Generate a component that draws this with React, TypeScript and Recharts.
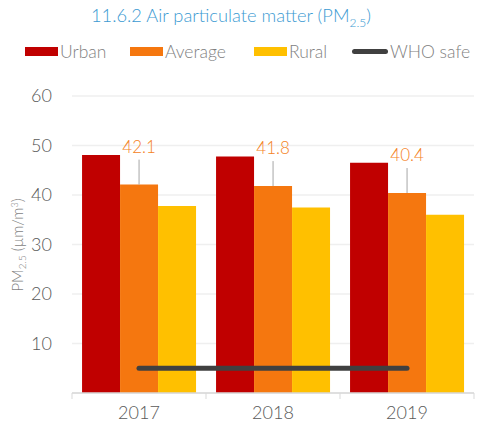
import { Bar, CartesianGrid, ComposedChart, LabelList, Line, XAxis, YAxis } from "recharts";

const years = ["2017", "2018", "2019"];
const urban = [48.1, 47.8, 46.5];
const average = [42.1, 41.8, 40.4];
const rural = [37.8, 37.5, 36.0];
const whoSafe = [5, 5, 5];
const yTicks = [10, 20, 30, 40, 50, 60];

const data = years.map((year, i) => ({
  year,
  urban: urban[i],
  average: average[i],
  rural: rural[i],
  who: whoSafe[i],
}));

const FONT = "Lato, 'Open Sans', sans-serif";
const CHART_W = 482;
const CHART_H = 434;
const MARGIN = { top: 96, right: 8, bottom: 11, left: 0 };
const Y_W = 72;
const HALF_BAND = (CHART_W - MARGIN.right - Y_W) / years.length / 2;

const XTick = (props: any) => {
  const { x, y, payload, index } = props;
  return (
    <g>
      <line x1={x - HALF_BAND} x2={x - HALF_BAND} y1={y - 8} y2={y - 2} stroke="#d9d9d9" />
      {index === years.length - 1 && (
        <line x1={x + HALF_BAND} x2={x + HALF_BAND} y1={y - 8} y2={y - 2} stroke="#d9d9d9" />
      )}
      <text x={x} y={y + 18} textAnchor="middle" fill="#595959" fontSize={18} fontFamily={FONT} fontWeight={300}>
        {payload.value}
      </text>
    </g>
  );
};

const AvgLabel = (props: any) => {
  const { x, y, width, value } = props;
  const cx = x + width / 2;
  return (
    <g>
      <line x1={cx} x2={cx} y1={y - 25} y2={y} stroke="#a6a6a6" strokeWidth={1} />
      <text x={cx} y={y - 32} textAnchor="middle" fill="#f48224" fontSize={17} fontFamily={FONT} fontWeight={300}>
        {value}
      </text>
    </g>
  );
};

const YLabel = () => (
  <text
    transform="translate(23,245) rotate(-90)"
    textAnchor="middle"
    fill="#7f7f7f"
    fontSize={15}
    fontFamily={FONT}
    fontWeight={300}
  >
    PM<tspan fontSize={10} dy={3}>2.5</tspan>
    <tspan dy={-3}> (µm/m</tspan>
    <tspan fontSize={9} dy={-5}>3</tspan>
    <tspan dy={5}>)</tspan>
  </text>
);

const legendItems = [
  { label: "Urban", color: "#c00000", left: 25 },
  { label: "Average", color: "#f5770f", left: 130 },
  { label: "Rural", color: "#ffc000", left: 254 },
  { label: "WHO safe", color: "#404040", left: 352, line: true },
];

export default function App() {
  return (
    <div style={{ position: "absolute", left: 0, top: 0, width: CHART_W, height: CHART_H, fontFamily: FONT, fontWeight: 300 }}>
      <div style={{ position: "absolute", left: 91, top: 4, fontSize: 18.3, color: "#3b9ad2", whiteSpace: "nowrap" }}>
        11.6.2 Air particulate matter (PM<sub style={{ fontSize: 12 }}>2.5</sub>)
      </div>
      {legendItems.map((item) => (
        <div key={item.label} style={{ position: "absolute", left: item.left, top: 41, display: "flex", alignItems: "center" }}>
          <div
            style={{
              width: item.line ? 36 : 33,
              height: item.line ? 5 : 9,
              borderRadius: item.line ? 3 : 0,
              background: item.color,
              marginRight: 2,
            }}
          />
          <span style={{ color: "#7f7f7f", fontSize: 17.5 }}>{item.label}</span>
        </div>
      ))}
      <ComposedChart width={CHART_W} height={CHART_H} data={data} margin={MARGIN} barCategoryGap="7.5%" barGap={0}>
        <CartesianGrid vertical={false} stroke="#efefef" strokeWidth={1.5} />
        <XAxis
          dataKey="year"
          height={30}
          axisLine={{ stroke: "#d9d9d9", strokeWidth: 1.5 }}
          tickLine={false}
          tick={<XTick />}
          interval={0}
        />
        <YAxis
          width={Y_W}
          domain={[0, 60]}
          ticks={yTicks}
          axisLine={false}
          tickLine={false}
          tickMargin={14}
          tick={{ fill: "#595959", fontSize: 18, fontFamily: FONT, fontWeight: 300 }}
          label={<YLabel />}
        />
        <Bar dataKey="urban" fill="#c00000" isAnimationActive={false} />
        <Bar dataKey="average" fill="#f5770f" isAnimationActive={false}>
          <LabelList dataKey="average" content={<AvgLabel />} />
        </Bar>
        <Bar dataKey="rural" fill="#ffc000" isAnimationActive={false} />
        <Line
          dataKey="who"
          stroke="#404040"
          strokeWidth={5}
          strokeLinecap="round"
          dot={false}
          isAnimationActive={false}
        />
      </ComposedChart>
    </div>
  );
}
